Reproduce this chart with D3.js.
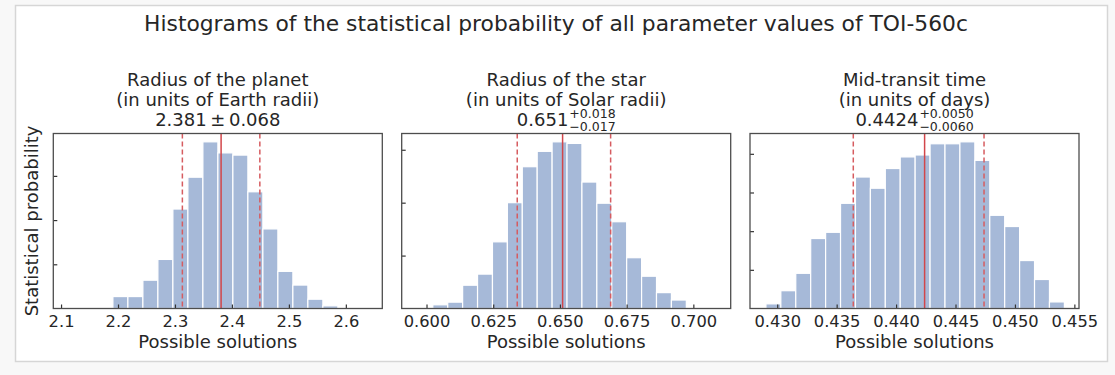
<!DOCTYPE html>
<html>
<head>
<meta charset="utf-8">
<script src="https://cdn.jsdelivr.net/npm/d3@7"></script>
<style>
  body { margin: 0; background: #f8f8f8; }
  svg { display: block; font-family: "DejaVu Sans", sans-serif; }
</style>
</head>
<body>
<div id="chart"></div>
<script>
// data
const mainTitle = 'Histograms of the statistical probability of all parameter values of TOI-560c';
const panelNames = ['Radius of the planet', 'Radius of the star', 'Mid-transit time'];
const panelUnits = ['(in units of Earth radii)', '(in units of Solar radii)', '(in units of days)'];

const medians = [2.381, 0.651, 0.4424];
const errUp = [0.068, 0.018, 0.0050];
const errDown = [0.068, 0.017, 0.0060];
const medianText = ['2.381', '0.651', '0.4424'];
const errUpText = ['0.068', '+0.018', '+0.0050'];
const errDownText = ['0.068', '\u22120.017', '\u22120.0060'];

// histogram bins (range of the bins) and counts
const binRanges = [[2.1647, 2.586], [0.60236, 0.69737], [0.42905, 0.45416]];
const planetRadiusCounts = [2, 27, 27, 64, 111, 225, 297, 377, 352, 347, 264, 180, 84, 53, 21, 6];
const starRadiusCounts = [7, 12, 44, 65, 126, 200, 268, 297, 315, 312, 239, 199, 164, 96, 61, 30, 16];
const midTransitCounts = [12, 46, 91, 181, 197, 272, 340, 311, 362, 392, 397, 426, 426, 431, 383, 241, 212, 124, 75, 17];
const counts = [planetRadiusCounts, starRadiusCounts, midTransitCounts];

const xDomains = [[2.0864, 2.664], [0.5907, 0.7140], [0.42771, 0.45539]];
const xTicks = [
  [2.1, 2.2, 2.3, 2.4, 2.5, 2.6],
  [0.600, 0.625, 0.650, 0.675, 0.700],
  [0.430, 0.435, 0.440, 0.445, 0.450, 0.455]
];
const xTickFormats = ['.1f', '.3f', '.3f'];
const yTicks = [[100, 200, 300], [100, 200, 300], [100, 200, 300, 400]];

// settings
const width = 1115;
const height = 375;
const panelLeft = [53.3, 401.7, 750];
const panelWidth = 329;
const panelTop = 133.5;
const panelBottom = 308.5;

const barColor = '#a6b9d8';
const redSolid = '#d2464a';
const redDashed = '#d65c60';
const spineColor = '#4d4d4d';
const textColor = '#262626';

const svg = d3.select('#chart')
  .append('svg')
  .attr('width', width)
  .attr('height', height);

// card
svg.append('rect')
  .attr('x', 15.5).attr('y', 5.5)
  .attr('width', 1092).attr('height', 356)
  .attr('fill', '#fff')
  .attr('stroke', '#d6d6d6')
  .attr('stroke-width', 1.5);

svg.append('text')
  .attr('x', 556).attr('y', 31)
  .attr('text-anchor', 'middle')
  .attr('font-size', 21.8)
  .attr('fill', textColor)
  .text(mainTitle);

svg.append('text')
  .attr('transform', `translate(38, ${(panelTop + panelBottom) / 2}) rotate(-90)`)
  .attr('text-anchor', 'middle')
  .attr('font-size', 18)
  .attr('fill', textColor)
  .text('Statistical probability');

counts.forEach((values, p) => {
  const x = d3.scaleLinear()
    .domain(xDomains[p])
    .range([panelLeft[p], panelLeft[p] + panelWidth]);
  const y = d3.scaleLinear()
    .domain([0, d3.max(values) * 1.05])
    .range([panelBottom, panelTop]);

  const [lo, hi] = binRanges[p];
  const binW = (hi - lo) / values.length;
  const bins = values.map((v, i) => ({ x0: lo + i * binW, x1: lo + (i + 1) * binW, v }));

  const g = svg.append('g');

  g.append('g')
    .selectAll('rect')
    .data(bins)
    .join('rect')
    .attr('x', d => x(d.x0))
    .attr('width', d => x(d.x1) - x(d.x0))
    .attr('y', d => y(d.v))
    .attr('height', d => y(0) - y(d.v))
    .attr('fill', barColor)
    .attr('stroke', '#fff')
    .attr('stroke-width', 1.2);

  // median and error lines
  const lines = [
    { v: medians[p] - errDown[p], dash: '5,3', color: redDashed },
    { v: medians[p] + errUp[p], dash: '5,3', color: redDashed },
    { v: medians[p], dash: null, color: redSolid }
  ];
  g.selectAll('line.err')
    .data(lines)
    .join('line')
    .attr('class', 'err')
    .attr('x1', d => x(d.v)).attr('x2', d => x(d.v))
    .attr('y1', panelTop).attr('y2', panelBottom)
    .attr('stroke', d => d.color)
    .attr('stroke-width', 1.5)
    .attr('stroke-dasharray', d => d.dash);

  // x axis, ticks pointing inward
  const xAxis = g.append('g')
    .attr('transform', `translate(0, ${panelBottom})`)
    .call(d3.axisBottom(x).tickValues(xTicks[p]).tickFormat(d3.format(xTickFormats[p])).tickSizeInner(-4).tickSizeOuter(0).tickPadding(7));
  xAxis.select('.domain').remove();
  xAxis.selectAll('line').attr('stroke', '#333').attr('stroke-width', 1.2);
  xAxis.selectAll('text').attr('font-size', 16.3).attr('fill', textColor).attr('font-family', '"DejaVu Sans", sans-serif');

  const yAxis = g.append('g')
    .attr('transform', `translate(${panelLeft[p]}, 0)`)
    .call(d3.axisLeft(y).tickValues(yTicks[p]).tickFormat('').tickSizeInner(-4).tickSizeOuter(0));
  yAxis.select('.domain').remove();
  yAxis.selectAll('line').attr('stroke', '#333').attr('stroke-width', 1.2);

  // frame
  g.append('rect')
    .attr('x', panelLeft[p]).attr('y', panelTop)
    .attr('width', panelWidth).attr('height', panelBottom - panelTop)
    .attr('fill', 'none')
    .attr('stroke', spineColor)
    .attr('stroke-width', 1.3);

  const cx = panelLeft[p] + panelWidth / 2;

  g.append('text')
    .attr('x', cx).attr('y', panelBottom + 39)
    .attr('text-anchor', 'middle')
    .attr('font-size', 18)
    .attr('fill', textColor)
    .text('Possible solutions');

  g.append('text')
    .attr('x', cx).attr('y', 86)
    .attr('text-anchor', 'middle')
    .attr('font-size', 18)
    .attr('fill', textColor)
    .text(panelNames[p]);
  g.append('text')
    .attr('x', cx).attr('y', 105.5)
    .attr('text-anchor', 'middle')
    .attr('font-size', 18)
    .attr('fill', textColor)
    .text(panelUnits[p]);

  if (errUp[p] === errDown[p]) {
    g.append('text')
      .attr('x', cx).attr('y', 125.5)
      .attr('text-anchor', 'middle')
      .attr('font-size', 18)
      .attr('fill', textColor)
      .text(`${medianText[p]}\u2009\u00b1\u2009${errUpText[p]}`);
  } else {
    const vg = g.append('g');
    const main = vg.append('text')
      .attr('x', 0).attr('y', 126)
      .attr('font-size', 18)
      .attr('fill', textColor)
      .text(medianText[p]);
    const w1 = main.node().getComputedTextLength();
    const sup = vg.append('text')
      .attr('x', w1 + 1).attr('y', 118)
      .attr('font-size', 12.5)
      .attr('fill', textColor)
      .text(errUpText[p]);
    const sub = vg.append('text')
      .attr('x', w1 + 1).attr('y', 131)
      .attr('font-size', 12.5)
      .attr('fill', textColor)
      .text(errDownText[p]);
    const total = w1 + 1 + Math.max(sup.node().getComputedTextLength(), sub.node().getComputedTextLength());
    vg.attr('transform', `translate(${cx - total / 2}, 0)`);
  }
});
</script>
</body>
</html>
